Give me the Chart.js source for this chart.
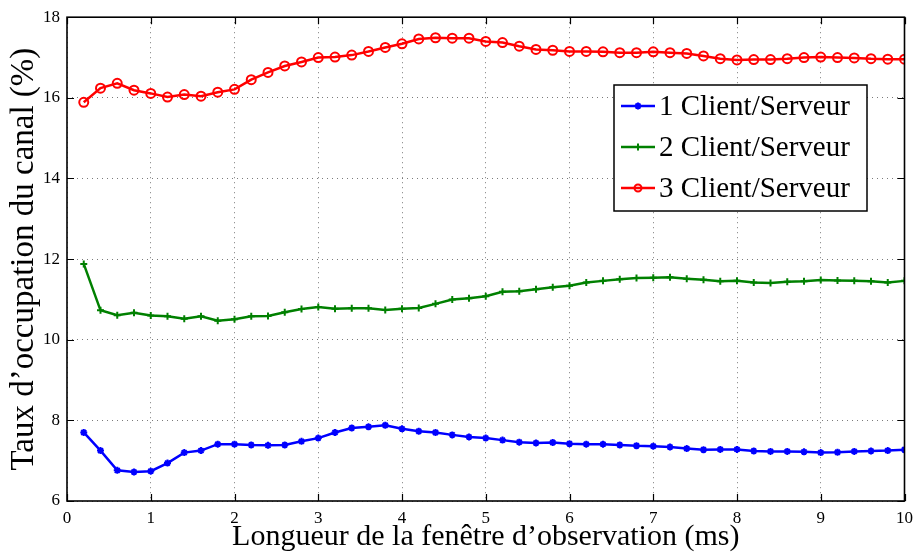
<!DOCTYPE html>
<html>
<head>
<meta charset="utf-8">
<script src="https://cdn.jsdelivr.net/npm/chart.js@4"></script>
<style>
    html, body { margin: 0; padding: 0; background: #fff; }
    #wrap { width: 920px; height: 555px; }
</style>
</head>
<body>
<div id="wrap"><canvas id="occChart" width="920" height="555"></canvas></div>
<script>
const windowMs = [0.2, 0.4, 0.6, 0.8, 1.0, 1.2, 1.4, 1.6, 1.8, 2.0,
    2.2, 2.4, 2.6, 2.8, 3.0, 3.2, 3.4, 3.6, 3.8, 4.0,
    4.2, 4.4, 4.6, 4.8, 5.0, 5.2, 5.4, 5.6, 5.8, 6.0,
    6.2, 6.4, 6.6, 6.8, 7.0, 7.2, 7.4, 7.6, 7.8, 8.0,
    8.2, 8.4, 8.6, 8.8, 9.0, 9.2, 9.4, 9.6, 9.8, 10.0];

const client1 = [7.70, 7.25, 6.76, 6.72, 6.74, 6.94, 7.20, 7.25, 7.41, 7.41,
    7.39, 7.38, 7.39, 7.48, 7.56, 7.70, 7.81, 7.84, 7.88, 7.79,
    7.73, 7.70, 7.64, 7.59, 7.56, 7.51, 7.46, 7.44, 7.45, 7.42,
    7.41, 7.41, 7.39, 7.37, 7.36, 7.34, 7.30, 7.27, 7.28, 7.28,
    7.24, 7.23, 7.23, 7.22, 7.20, 7.21, 7.23, 7.24, 7.25, 7.27];

const client2 = [11.88, 10.73, 10.61, 10.67, 10.60, 10.58, 10.52, 10.58, 10.47, 10.51,
    10.58, 10.59, 10.68, 10.76, 10.81, 10.77, 10.78, 10.78, 10.74, 10.77,
    10.79, 10.89, 11.00, 11.03, 11.08, 11.19, 11.20, 11.25, 11.30, 11.34,
    11.42, 11.46, 11.50, 11.53, 11.54, 11.55, 11.51, 11.49, 11.45, 11.46,
    11.42, 11.41, 11.44, 11.45, 11.48, 11.47, 11.46, 11.45, 11.42, 11.46];

const client3 = [15.89, 16.24, 16.36, 16.19, 16.11, 16.02, 16.08, 16.04, 16.14, 16.21,
    16.45, 16.63, 16.79, 16.89, 17.00, 17.01, 17.06, 17.15, 17.25, 17.34,
    17.46, 17.49, 17.48, 17.48, 17.40, 17.37, 17.28, 17.20, 17.18, 17.15,
    17.15, 17.14, 17.12, 17.12, 17.14, 17.12, 17.10, 17.04, 16.97, 16.94,
    16.95, 16.95, 16.97, 17.00, 17.01, 17.00, 16.99, 16.97, 16.96, 16.96];

const seriesLabels = ['1 Client/Serveur', '2 Client/Serveur', '3 Client/Serveur'];
const seriesColors = ['#0000ff', '#008000', '#ff0000'];
const seriesMarkers = ['star', 'cross', 'circle'];
const xTicks = [0, 1, 2, 3, 4, 5, 6, 7, 8, 9, 10];
const yTicks = [6, 8, 10, 12, 14, 16, 18];

const serif = "'Liberation Serif', 'DejaVu Serif', serif";

function toPoints(values) {
    return values.map((v, i) => ({ x: windowMs[i], y: v }));
}

function makeDataset(values, idx) {
    return {
        label: seriesLabels[idx],
        data: toPoints(values),
        borderColor: seriesColors[idx],
        backgroundColor: seriesColors[idx],
        borderWidth: 2.5,
        pointStyle: seriesMarkers[idx],
        pointRadius: idx === 2 ? 4.5 : 3.5,
        pointBorderWidth: 2,
        pointBorderColor: seriesColors[idx],
        pointBackgroundColor: idx === 2 ? 'rgba(0,0,0,0)' : seriesColors[idx],
        tension: 0
    };
}

// frame + inward ticks on all four sides, like a matlab axes box
const boxTicks = {
    id: 'boxTicks',
    afterDraw(chart) {
        const { ctx, chartArea: a, scales } = chart;
        const len = 7;
        ctx.save();
        ctx.strokeStyle = '#000';
        ctx.lineWidth = 1.2;
        ctx.beginPath();
        xTicks.forEach(t => {
            const px = Math.round(scales.x.getPixelForValue(t)) + 0.5;
            ctx.moveTo(px, a.bottom); ctx.lineTo(px, a.bottom - len);
            ctx.moveTo(px, a.top); ctx.lineTo(px, a.top + len);
        });
        yTicks.forEach(t => {
            const py = Math.round(scales.y.getPixelForValue(t)) + 0.5;
            ctx.moveTo(a.left, py); ctx.lineTo(a.left + len, py);
            ctx.moveTo(a.right, py); ctx.lineTo(a.right - len, py);
        });
        ctx.stroke();
        ctx.lineWidth = 1.6;
        ctx.strokeRect(a.left, a.top, a.right - a.left, a.bottom - a.top);
        ctx.restore();
    }
};

// legend box drawn inside the plot, upper right
const insideLegend = {
    id: 'insideLegend',
    afterDraw(chart) {
        const { ctx } = chart;
        const bx = 614, by = 85, bw = 253, bh = 126;
        ctx.save();
        ctx.fillStyle = '#fff';
        ctx.fillRect(bx, by, bw, bh);
        ctx.strokeStyle = '#000';
        ctx.lineWidth = 1.5;
        ctx.strokeRect(bx, by, bw, bh);
        ctx.font = '29px ' + serif;
        ctx.textBaseline = 'middle';
        chart.data.datasets.forEach((ds, i) => {
            const ry = by + 21 + i * 41;
            ctx.strokeStyle = ds.borderColor;
            ctx.lineWidth = 2.5;
            ctx.beginPath();
            ctx.moveTo(bx + 7, ry);
            ctx.lineTo(bx + 41, ry);
            ctx.stroke();
            ctx.lineWidth = 2;
            ctx.fillStyle = ds.pointBackgroundColor;
            Chart.helpers.drawPoint(ctx, {
                pointStyle: ds.pointStyle, radius: 3.5, rotation: 0, borderWidth: 2
            }, bx + 24, ry);
            ctx.fillStyle = '#000';
            ctx.fillText(ds.label, bx + 45, ry + 1);
        });
        ctx.restore();
    }
};

new Chart(document.getElementById('occChart'), {
    type: 'line',
    data: {
        datasets: [makeDataset(client1, 0), makeDataset(client2, 1), makeDataset(client3, 2)]
    },
    options: {
        responsive: false,
        animation: false,
        layout: { padding: { top: 15, right: 13, left: 0, bottom: 0 } },
        plugins: {
            legend: { display: false },
            tooltip: { enabled: false }
        },
        scales: {
            x: {
                type: 'linear',
                min: 0,
                max: 10,
                afterFit: s => { s.height = 54; },
                afterBuildTicks: s => { s.ticks = xTicks.map(v => ({ value: v })); },
                grid: {
                    color: 'rgba(90,90,90,0.8)',
                    borderDash: [1, 4],
                    drawTicks: false,
                    lineWidth: 1
                },
                border: { display: false, dash: [1, 4] },
                ticks: {
                    color: '#000',
                    padding: 7,
                    maxRotation: 0,
                    font: { family: serif, size: 17 }
                },
                title: {
                    display: true,
                    text: 'Longueur de la fenêtre d\u2019observation (ms)',
                    color: '#000',
                    font: { family: serif, size: 30 },
                    padding: { top: 0, bottom: 0 }
                }
            },
            y: {
                min: 6,
                max: 18,
                afterFit: s => { s.width = 67; },
                afterBuildTicks: s => { s.ticks = yTicks.map(v => ({ value: v })); },
                grid: {
                    color: 'rgba(90,90,90,0.8)',
                    borderDash: [1, 4],
                    drawTicks: false,
                    lineWidth: 1
                },
                border: { display: false, dash: [1, 4] },
                ticks: {
                    color: '#000',
                    padding: 7,
                    font: { family: serif, size: 17 }
                },
                title: {
                    display: true,
                    text: 'Taux d\u2019occupation du canal (%)',
                    color: '#000',
                    font: { family: serif, size: 33 },
                    padding: { top: 5, bottom: 0 }
                }
            }
        }
    },
    plugins: [boxTicks, insideLegend]
});
</script>
</body>
</html>
